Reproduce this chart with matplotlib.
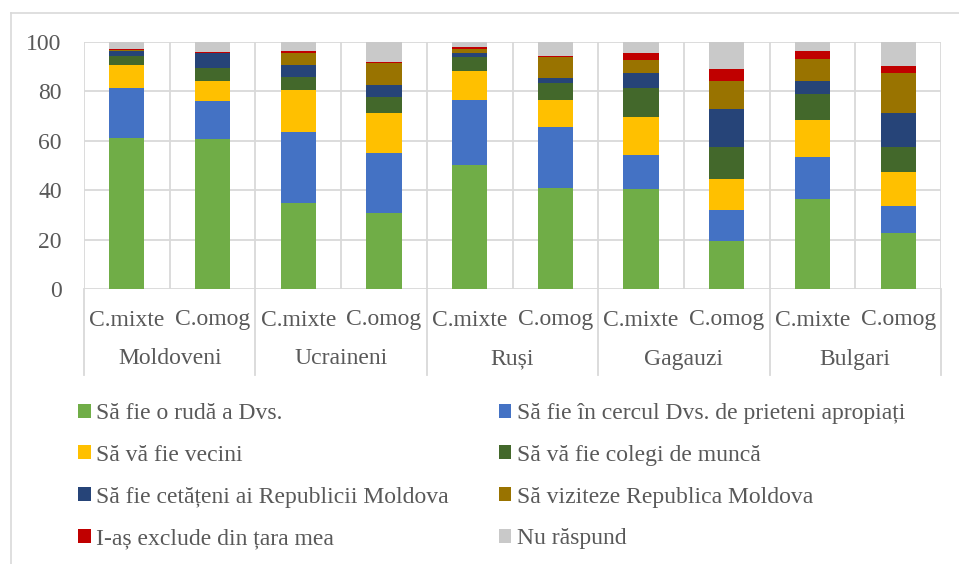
import matplotlib
matplotlib.use("Agg")
import matplotlib.pyplot as plt
import numpy as np
from matplotlib.patches import Patch
from matplotlib.lines import Line2D
import matplotlib.transforms as mtransforms

groups = ["Moldoveni", "Ucraineni", "Ruși", "Gagauzi", "Bulgari"]
subcats = ["C.mixte", "C.omog"]

series_names = [
    "Să fie o rudă a Dvs.",
    "Să fie în cercul Dvs. de prieteni apropiați",
    "Să vă fie vecini",
    "Să vă fie colegi de muncă",
    "Să fie cetățeni ai Republicii Moldova",
    "Să viziteze Republica Moldova",
    "I-aș exclude din țara mea",
    "Nu răspund",
]
colors = ["#70AD47", "#4472C4", "#FFC000", "#43682B", "#264478", "#997300", "#C00000", "#C9C9C9"]

# order of bars: Moldoveni mixte, omog, Ucraineni mixte, omog, ...
ruda     = [61.2, 60.8, 35.0, 30.6, 50.1, 40.7, 40.4, 19.4, 36.4, 22.6]
prieteni = [20.0, 15.5, 28.4, 24.4, 26.6, 24.9, 13.7, 12.4, 16.9, 11.0]
vecini   = [9.3, 7.8, 17.2, 16.4, 11.4, 10.8, 15.7, 12.9, 15.0, 13.6]
colegi   = [3.7, 5.2, 5.3, 6.2, 5.7, 6.8, 11.6, 12.6, 10.6, 10.1]
cetateni = [2.3, 6.1, 4.6, 4.8, 1.6, 2.4, 5.9, 15.5, 5.4, 13.8]
viziteze = [0.4, 0.0, 5.0, 9.2, 1.9, 8.3, 5.5, 11.5, 8.8, 16.2]
exclude  = [0.1, 0.7, 0.8, 0.4, 0.5, 0.3, 2.6, 4.6, 3.1, 2.9]
nu_rasp  = [3.0, 3.9, 3.7, 8.0, 2.2, 5.8, 4.6, 11.1, 3.8, 9.8]
yticks = [0, 20, 40, 60, 80, 100]

series = [ruda, prieteni, vecini, colegi, cetateni, viziteze, exclude, nu_rasp]

W, H = 959, 564
fig = plt.figure(figsize=(W / 100, H / 100), dpi=100)
plt.rcParams["font.family"] = ["Liberation Serif", "DejaVu Serif"]
txt_color = "#595959"
grid_color = "#D9D9D9"
fs = 17

# outer border
fig.add_artist(Line2D([11 / W, 11 / W], [0, 1 - 13 / H], color=grid_color, lw=1.2, transform=fig.transFigure))
fig.add_artist(Line2D([11 / W, 1], [1 - 13 / H, 1 - 13 / H], color=grid_color, lw=1.2, transform=fig.transFigure))

left, right, top, bottom = 84, 941, 42, 289
ax = fig.add_axes([left / W, 1 - bottom / H, (right - left) / W, (bottom - top) / H])

n = len(ruda)
x = np.arange(n)
base = np.zeros(n)
for vals, c, name in zip(series, colors, series_names):
    ax.bar(x, vals, bottom=base, width=0.41, color=c, label=name, zorder=3, linewidth=0)
    base += np.array(vals)

ax.set_xlim(-0.5, n - 0.5)
ax.set_ylim(0, 100)
ax.set_yticks(yticks)
ax.set_yticklabels([str(v) for v in yticks], fontsize=fs, color=txt_color)
ax.tick_params(axis="y", length=0, pad=16)
ax.set_xticks([])
for s in ax.spines.values():
    s.set_visible(False)
for yv in yticks:
    ax.axhline(yv, color=grid_color, lw=1.3, zorder=1)
for k in range(n + 1):
    ax.axvline(k - 0.5, color=grid_color, lw=1.3, zorder=1)

# multi-level category labels
trans = mtransforms.blended_transform_factory(ax.transData, ax.transAxes)
ph = bottom - top
y1 = -(320 - bottom) / ph
y2 = -(359 - bottom) / ph
ysep = -(375 - bottom) / ph
for i in range(n):
    ax.text(x[i], y1, subcats[i % 2], transform=trans, ha="center", va="center",
            fontsize=fs, color=txt_color)
for g, name in enumerate(groups):
    ax.text(2 * g + 0.5, y2, name, transform=trans, ha="center", va="center",
            fontsize=fs, color=txt_color)
for g in range(len(groups) + 1):
    xs = 2 * g - 0.5
    ax.plot([xs, xs], [0, ysep], transform=trans, color=grid_color, lw=1.3, clip_on=False)

# legend: row-major order in two columns
order = [0, 2, 4, 6, 1, 3, 5, 7]
handles = [Patch(facecolor=colors[i], edgecolor="none", label=series_names[i]) for i in order]
leg = fig.legend(handles=handles, ncol=2, loc="upper left",
                 bbox_to_anchor=(78 / W, 1 - 403 / H), frameon=False,
                 fontsize=fs, labelcolor=txt_color, handlelength=0.53, handleheight=0.53,
                 handletextpad=0.25, columnspacing=2.1, labelspacing=0.88,
                 borderpad=0, borderaxespad=0)

fig.savefig("out.png", dpi=100, facecolor="white")
